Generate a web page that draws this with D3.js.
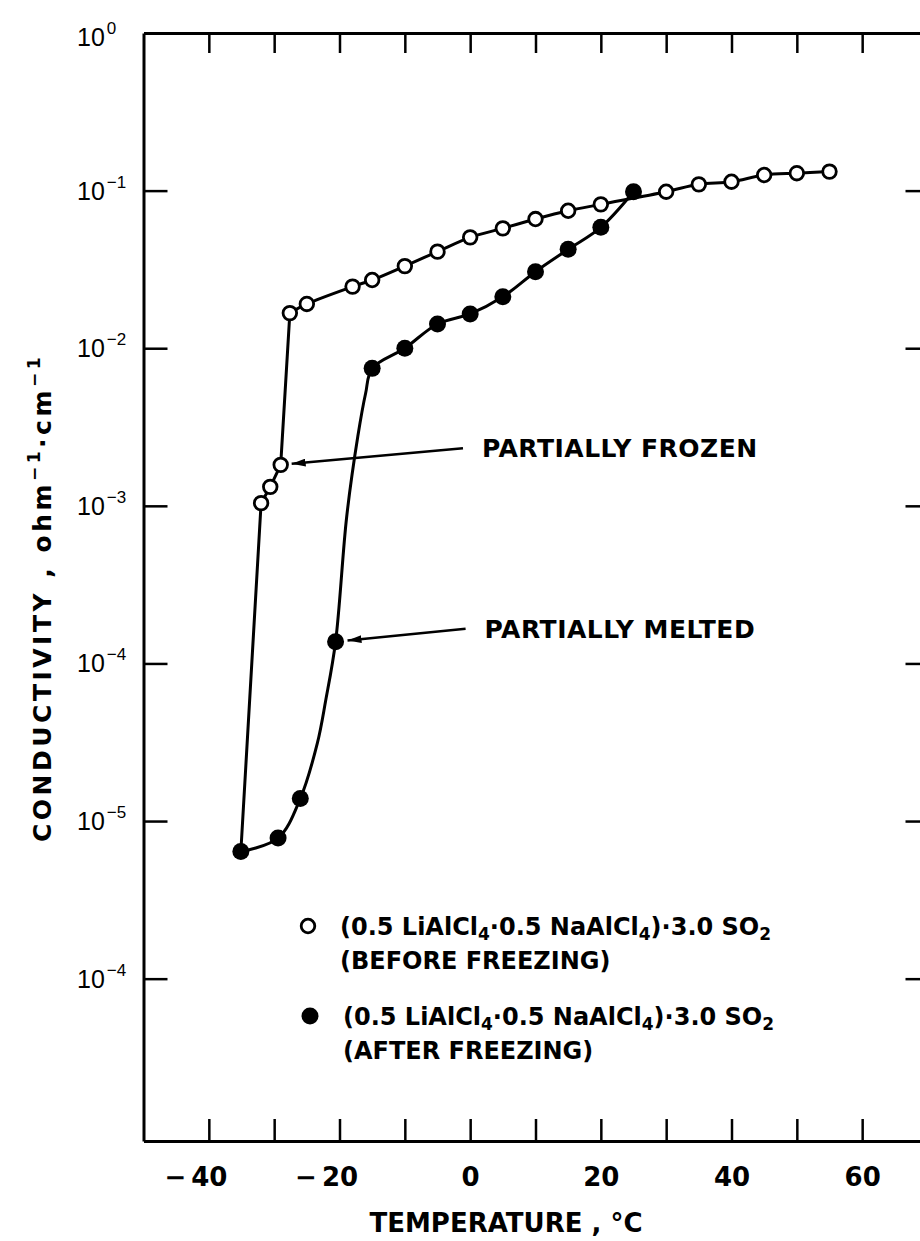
<!DOCTYPE html>
<html lang="en">
<head>
  <meta charset="UTF-8">
  <title>Conductivity vs Temperature</title>
  <script src="https://d3js.org/d3.v7.min.js"></script>
  <style>
    html, body { margin: 0; padding: 0; background: #fff; }
    svg { display: block; }
    .axis path { stroke: #000; stroke-width: 3px; fill: none; }
    .axis line { stroke: #000; stroke-width: 2.5px; }
    .lbl { font-family: "DejaVu Sans", sans-serif; font-weight: bold; fill: #000; }
    .ylab { font-family: "Liberation Sans", sans-serif; fill: #000; }
    .curve { fill: none; stroke: #000; stroke-width: 3px; stroke-linejoin: round; }
  </style>
</head>
<body>
  <svg id="chart" width="920" height="1241"></svg>
  <script>
  // (0.5 LiAlCl4.0.5 NaAlCl4).3.0 SO2, before freezing (open circles)
  const openTemp = [-32, -30.6, -29, -27.6, -25, -18, -15, -10, -5, 0, 5, 10, 15, 20, 30, 35, 40, 45, 50, 55];
  const openCond = [1.04e-3, 1.32e-3, 1.82e-3, 0.0167, 0.0191, 0.0246, 0.0271, 0.0332, 0.0410, 0.0505, 0.0576,
                    0.0660, 0.0745, 0.0818, 0.0984, 0.1096, 0.1139, 0.1256, 0.129, 0.132];

  // same electrolyte, after freezing (filled circles)
  const filledTemp = [-35.1, -29.4, -26, -20.6, -15, -10, -5, 0, 5, 10, 15, 20, 25];
  const filledCond = [6.4e-6, 7.8e-6, 1.39e-5, 1.374e-4, 7.45e-3, 0.0100, 0.01425, 0.0165, 0.0212, 0.0306,
                      0.0424, 0.0585, 0.0984];

  // points traced along the drawn after-freezing curve between markers (no symbol)
  const traceTemp = [-23.4, -22.1, -18.9, -17.2, -16.0];
  const traceCond = [3.11e-5, 5.86e-5, 8.53e-4, 2.75e-3, 5.18e-3];

  const xTicks = [-40, -30, -20, -10, 0, 10, 20, 30, 40, 50, 60];
  const xLabeled = [-40, -20, 0, 20, 40, 60];
  const yTicks = [1e-1, 1e-2, 1e-3, 1e-4, 1e-5, 1e-6];
  const yLabelVals = [1, 1e-1, 1e-2, 1e-3, 1e-4, 1e-5, 1e-6];
  const yLabelExp = ["0", "-1", "-2", "-3", "-4", "-5", "-4"]; // printed as in the original figure

  const svg = d3.select("#chart");
  const box = { left: 143.5, right: 927.5, top: 33, bottom: 1141 };

  const x = d3.scaleLinear().domain([-50, 70]).range([box.left, box.right]);
  const y = d3.scaleLog().domain([Math.pow(10, -7.03), 1]).range([box.bottom, box.top]);

  // ---- axes (ticks point inward) ----
  const bottomAxis = svg.append("g")
    .attr("class", "axis")
    .attr("transform", `translate(0,${box.bottom})`)
    .call(d3.axisBottom(x).tickValues(xTicks).tickSizeInner(-22).tickSizeOuter(0).tickPadding(27)
      .tickFormat(d => xLabeled.includes(d) ? Math.abs(d) : ""));

  bottomAxis.selectAll("text")
    .attr("class", "lbl")
    .style("font-size", "26px")
    .attr("fill", "#000");

  // minus sign hangs left of the digits, the digits are centred on the tick
  bottomAxis.selectAll(".tick").filter(d => d < 0 && xLabeled.includes(d)).each(function() {
    const t = d3.select(this).select("text");
    const w = t.node().getComputedTextLength();
    d3.select(this).append("text")
      .attr("class", "lbl")
      .style("font-size", "26px")
      .attr("text-anchor", "end")
      .attr("x", -w / 2 - 5)
      .attr("y", t.attr("y"))
      .attr("dy", t.attr("dy"))
      .text("\u2212");
  });

  svg.append("g")
    .attr("class", "axis")
    .attr("transform", `translate(0,${box.top})`)
    .call(d3.axisTop(x).tickValues(xTicks).tickSizeInner(-20).tickSizeOuter(0).tickFormat(""));

  svg.append("g")
    .attr("class", "axis")
    .attr("transform", `translate(${box.left},0)`)
    .call(d3.axisLeft(y).tickValues(yTicks).tickSizeInner(-24).tickSizeOuter(0).tickFormat(""));

  svg.append("g")
    .attr("class", "axis")
    .attr("transform", `translate(${box.right},0)`)
    .call(d3.axisRight(y).tickValues(yTicks).tickSizeInner(-22).tickSizeOuter(0).tickFormat(""));

  // y tick labels: 10 with superscript exponent
  yLabelVals.forEach((v, i) => {
    const t = svg.append("text")
      .attr("class", "ylab")
      .attr("x", 77)
      .attr("y", y(v) + 9 + (i === 0 ? 4 : 0))
      .style("font-size", "25px");
    t.append("tspan").text("10");
    t.append("tspan")
      .attr("dx", 2)
      .attr("dy", -12)
      .style("font-size", "17px")
      .text(yLabelExp[i].replace("-", "\u2212"));
  });

  // ---- axis titles ----
  svg.append("text")
    .attr("class", "lbl")
    .attr("x", 506)
    .attr("y", 1232)
    .attr("text-anchor", "middle")
    .style("font-size", "26px")
    .text("TEMPERATURE , \u00B0C");

  const yTitle = svg.append("text")
    .attr("class", "lbl")
    .attr("transform", "translate(51,598) rotate(-90)")
    .attr("text-anchor", "middle")
    .style("font-size", "25px")
    .style("letter-spacing", "3.5px");
  yTitle.append("tspan").text("CONDUCTIVITY ,  ohm");
  yTitle.append("tspan").attr("dy", -11).style("font-size", "17px").text("\u22121");
  yTitle.append("tspan").attr("dy", 11).text("\u00B7cm");
  yTitle.append("tspan").attr("dy", -11).style("font-size", "17px").text("\u22121");

  // ---- curves ----
  const smooth = d3.line()
    .x(d => x(d[0]))
    .y(d => y(d[1]))
    .curve(d3.curveCatmullRom.alpha(0.5));
  const straight = d3.line()
    .x(d => x(d[0]))
    .y(d => y(d[1]));

  const openPts = openTemp.map((t, i) => [t, openCond[i]]);
  const filledPts = filledTemp.map((t, i) => [t, filledCond[i]]);
  const tracePts = traceTemp.map((t, i) => [t, traceCond[i]]);

  // before-freezing curve: straight drop from the first plateau point down to
  // the lowest after-freezing point, smooth above it
  svg.append("path")
    .attr("class", "curve")
    .attr("d", straight([filledPts[0], ...openPts.slice(0, 4)]));
  svg.append("path")
    .attr("class", "curve")
    .attr("d", smooth(openPts.slice(3)));

  svg.append("path")
    .attr("class", "curve")
    .attr("d", smooth(filledPts.concat(tracePts).sort((a, b) => a[0] - b[0])));

  svg.append("g").selectAll("circle")
    .data(filledPts)
    .join("circle")
    .attr("cx", d => x(d[0]))
    .attr("cy", d => y(d[1]))
    .attr("r", 8.5)
    .attr("fill", "#000");

  svg.append("g").selectAll("circle")
    .data(openPts)
    .join("circle")
    .attr("cx", d => x(d[0]))
    .attr("cy", d => y(d[1]))
    .attr("r", 6.8)
    .attr("fill", "#fff")
    .attr("stroke", "#000")
    .attr("stroke-width", 2.8);

  // ---- annotations ----
  svg.append("defs").append("marker")
    .attr("id", "head")
    .attr("viewBox", "0 0 14 8")
    .attr("refX", 14).attr("refY", 4)
    .attr("markerWidth", 14).attr("markerHeight", 8)
    .attr("markerUnits", "userSpaceOnUse")
    .attr("orient", "auto")
    .append("path")
    .attr("d", "M0,0 L14,4 L0,8 Z")
    .attr("fill", "#000");

  const notes = [
    { text: "PARTIALLY FROZEN", pt: openPts[2], from: [-1.1, Math.pow(10, -2.635)], r: 11 },
    { text: "PARTIALLY MELTED", pt: filledPts[3], from: [-0.7, Math.pow(10, -3.78)], r: 12 }
  ];

  notes.forEach(n => {
    const px = x(n.pt[0]), py = y(n.pt[1]);
    const fx = x(n.from[0]), fy = y(n.from[1]);
    const len = Math.hypot(fx - px, fy - py);
    const tx = px + (fx - px) / len * n.r, ty = py + (fy - py) / len * n.r;
    svg.append("line")
      .attr("x1", fx).attr("y1", fy)
      .attr("x2", tx).attr("y2", ty)
      .attr("stroke", "#000")
      .attr("stroke-width", 2.5)
      .attr("marker-end", "url(#head)");
    svg.append("text")
      .attr("class", "lbl")
      .attr("x", fx + 19)
      .attr("y", fy + 9)
      .style("font-size", "25px")
      .style("letter-spacing", "0.5px")
      .text(n.text);
  });

  // ---- legend ----
  const formula = [
    { s: "(0.5 LiAlCl" }, { s: "4", sub: true }, { s: "\u00B70.5 NaAlCl" }, { s: "4", sub: true },
    { s: ")\u00B73.0 SO" }, { s: "2", sub: true }
  ];

  function richText(g, xx, yy, parts) {
    const t = g.append("text")
      .attr("class", "lbl")
      .attr("x", xx)
      .attr("y", yy)
      .style("font-size", "24px");
    let shifted = 0;
    parts.forEach(p => {
      const want = p.sub ? 5 : 0;
      t.append("tspan")
        .attr("dy", want - shifted)
        .style("font-size", p.sub ? "17px" : null)
        .text(p.s);
      shifted = want;
    });
    return t;
  }

  const legend = svg.append("g");
  legend.append("circle").attr("cx", 308).attr("cy", 926).attr("r", 6.8)
    .attr("fill", "#fff").attr("stroke", "#000").attr("stroke-width", 2.8);
  richText(legend, 340, 935, formula);
  richText(legend, 340, 969, [{ s: "(BEFORE FREEZING)" }]);

  legend.append("circle").attr("cx", 310).attr("cy", 1016).attr("r", 8.5).attr("fill", "#000");
  richText(legend, 343, 1025, formula);
  richText(legend, 343, 1059, [{ s: "(AFTER FREEZING)" }]);
  </script>
</body>
</html>
